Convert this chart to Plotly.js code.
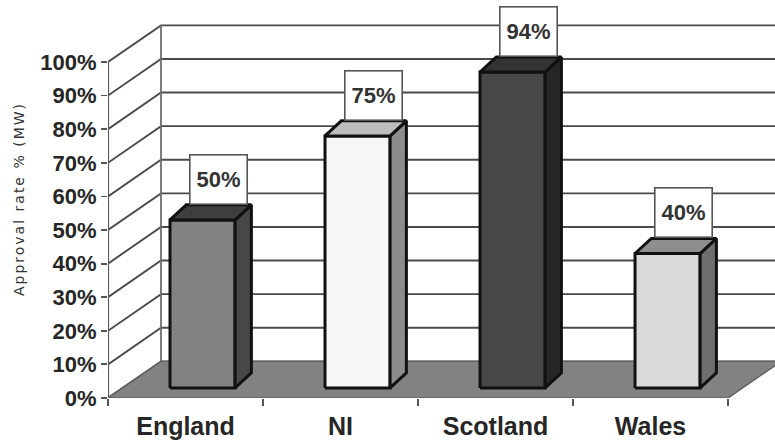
<!DOCTYPE html>
<html>
<head>
<meta charset="utf-8">
<script src="https://cdn.plot.ly/plotly-3.0.1.min.js"></script>
<style>
  html, body { margin: 0; padding: 0; background: #fff; }
  #chart { width: 775px; height: 444px; }
  .ytitle { letter-spacing: 2px; }
</style>
</head>
<body>
<div id="chart"></div>
<script>
// ---- data ----
const categories = ['England', 'NI', 'Scotland', 'Wales'];
const approval = [50, 75, 94, 40];
const valueLabels = ['50%', '75%', '94%', '40%'];
const yTickVals = [0, 10, 20, 30, 40, 50, 60, 70, 80, 90, 100];
const yTickText = ['0%', '10%', '20%', '30%', '40%', '50%', '60%', '70%', '80%', '90%', '100%'];

// ---- styles ----
const frontFill = ['#828282', '#f6f6f6', '#474747', '#d9d9d9'];
const topFill   = ['#3e3e3e', '#bdbdbd', '#333333', '#8e8e8e'];
const sideFill  = ['#474747', '#8c8c8c', '#262626', '#6e6e6e'];

// ---- 3D geometry (axis units) ----
const X_MAX = 4.303, Y_MAX = 118.45;
const WALL_DX = 0.342, WALL_DY = 10.9;
const BAR_OFF_X = 0.40, BAR_BASE = 3.0, BAR_W = 0.42, BAR_DX = 0.105, BAR_DY = 4.5;
const nCat = categories.length;

const shapes = [];
// wall grid lines (left wall diagonal + back wall horizontal)
yTickVals.forEach(v => {
  shapes.push({
    type: 'path', xref: 'x', yref: 'y', layer: 'below',
    path: `M 0,${v} L ${WALL_DX},${v + WALL_DY} L ${X_MAX},${v + WALL_DY}`,
    line: { color: '#4a4a4a', width: 1.9 }
  });
});
// back-left vertical edge
shapes.push({
  type: 'line', xref: 'x', yref: 'y', layer: 'below',
  x0: WALL_DX, y0: WALL_DY, x1: WALL_DX, y1: yTickVals[yTickVals.length - 1] + WALL_DY,
  line: { color: '#6e6e6e', width: 1.8 }
});
// floor
shapes.push({
  type: 'path', xref: 'x', yref: 'y', layer: 'below',
  path: `M 0,0 L ${nCat},0 L ${nCat + WALL_DX},${WALL_DY} L ${WALL_DX},${WALL_DY} Z`,
  fillcolor: '#828282', line: { color: '#606060', width: 1.4 }
});
// front value axis line
shapes.push({
  type: 'line', xref: 'x', yref: 'y', layer: 'below',
  x0: 0, y0: 0, x1: 0, y1: yTickVals[yTickVals.length - 1],
  line: { color: '#5a5a5a', width: 2.2 }
});

const traces = [];
const annotations = [];
const outline = { color: '#111', width: 3 };
approval.forEach((v, i) => {
  const x0 = i + BAR_OFF_X, x1 = x0 + BAR_W;
  const y0 = BAR_BASE, y1 = BAR_BASE + v;
  const face = (xs, ys, fill) => ({
    type: 'scatter', mode: 'lines', x: xs, y: ys, fill: 'toself',
    fillcolor: fill, line: outline, hoverinfo: 'skip', showlegend: false
  });
  traces.push(face([x0, x1, x1, x0, x0], [y0, y0, y1, y1, y0], frontFill[i]));
  traces.push(face([x1, x1 + BAR_DX, x1 + BAR_DX, x1, x1],
                   [y0, y0 + BAR_DY, y1 + BAR_DY, y1, y0], sideFill[i]));
  traces.push(face([x0, x1, x1 + BAR_DX, x0 + BAR_DX, x0],
                   [y1, y1, y1 + BAR_DY, y1 + BAR_DY, y1], topFill[i]));
  annotations.push({
    x: x0 + BAR_DX + BAR_W / 2, y: y1 + BAR_DY, xref: 'x', yref: 'y',
    xanchor: 'center', yanchor: 'bottom', showarrow: false,
    text: valueLabels[i], width: 56, height: 48,
    bgcolor: '#ffffff', bordercolor: '#555555', borderwidth: 1.6, borderpad: 0,
    font: { family: 'Liberation Sans, Arial, sans-serif', size: 22, weight: 'bold', color: '#333' }
  });
});

const layout = {
  width: 775, height: 444,
  margin: { l: 108, r: 0, t: 0, b: 46 },
  paper_bgcolor: '#ffffff', plot_bgcolor: '#ffffff',
  showlegend: false,
  xaxis: {
    range: [0, X_MAX], fixedrange: true,
    tickvals: categories.map((c, i) => i + 0.5), ticktext: categories,
    ticks: '', showgrid: false, zeroline: false, showline: false,
    ticklabelstandoff: 11,
    tickfont: { family: 'Liberation Sans, Arial, sans-serif', size: 25, weight: 'bold', color: '#262626' },
    minor: {
      tickvals: categories.map((c, i) => i).concat([nCat]),
      ticks: 'outside', ticklen: 7, tickwidth: 2, tickcolor: '#555', showgrid: false
    }
  },
  yaxis: {
    range: [0, Y_MAX], fixedrange: true,
    tickvals: yTickVals, ticktext: yTickText,
    ticks: 'outside', ticklen: 6, tickwidth: 1.8, tickcolor: '#555',
    showgrid: false, zeroline: false, showline: false,
    tickfont: { family: 'Liberation Sans, Arial, sans-serif', size: 22, weight: 'bold', color: '#262626' },
    title: {
      text: 'Approval rate % (MW)', standoff: 12,
      font: { family: 'DejaVu Sans, sans-serif', size: 14, color: '#333' }
    }
  },
  shapes: shapes,
  annotations: annotations
};

Plotly.newPlot('chart', traces, layout, { displayModeBar: false, staticPlot: true });
</script>
</body>
</html>
